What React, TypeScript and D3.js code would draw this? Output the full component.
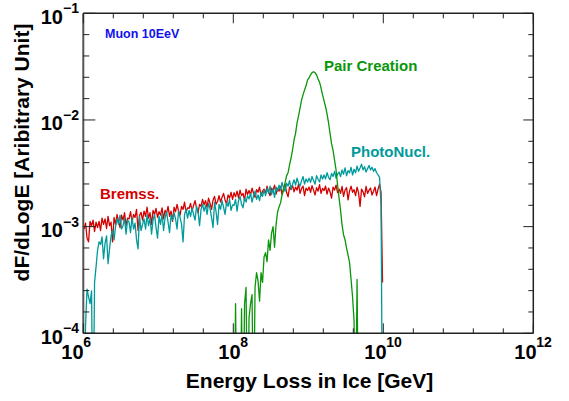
import React from 'react';
import * as d3 from 'd3';

// Histogram binning (log10 of energy loss in GeV)
const binStartLog = 6.0;
const binWidthLog = 0.02;
const UNIT = 1e-3; // values below are in units of 1e-3

const bremss = [
  0.95, 1.08, 0.78, 0.72, 1.12, 1.02, 1.15, 0.90, 1.10, 0.98,
  1.12, 0.92, 1.20, 1.05, 1.18, 0.96, 1.25, 1.02, 1.10, 0.72,
  1.22, 1.05, 1.30, 1.12, 0.98, 1.28, 1.15, 1.35, 1.02, 1.20,
  1.18, 1.38, 1.10, 1.30, 1.22, 1.45, 0.92, 1.28, 1.36, 1.15,
  1.40, 1.25, 1.52, 1.20, 1.35, 1.05, 1.42, 1.30, 1.48, 1.22,
  1.38, 1.28, 1.50, 1.18, 1.42, 1.33, 1.55, 1.25, 1.40, 1.12,
  1.52, 1.38, 1.62, 1.40, 1.28, 1.55, 1.45, 1.70, 1.36, 1.50,
  1.48, 1.65, 1.40, 1.58, 1.75, 1.50, 1.35, 1.62, 1.55, 1.80,
  1.60, 1.75, 1.52, 1.85, 1.65, 1.45, 1.78, 1.92, 1.62, 1.72,
  1.95, 1.70, 1.88, 2.05, 1.78, 1.62, 1.98, 1.85, 2.10, 1.80,
  2.08, 1.90, 2.15, 1.85, 2.20, 1.95, 2.05, 1.75, 2.25, 2.00,
  2.18, 1.98, 2.30, 2.05, 1.88, 2.22, 2.10, 2.35, 1.95, 2.15,
  2.25, 2.05, 2.40, 2.12, 1.95, 2.30, 2.18, 2.45, 2.02, 2.28,
  2.15, 2.38, 2.00, 2.30, 2.50, 2.10, 1.90, 2.35, 2.22, 2.45,
  2.12, 2.35, 2.20, 2.50, 2.05, 2.28, 2.40, 1.95, 2.30, 2.18,
  2.35, 2.10, 2.42, 2.20, 1.98, 2.32, 2.15, 2.48, 2.05, 2.28,
  2.18, 2.40, 2.02, 2.30, 2.12, 1.85, 2.35, 2.20, 2.45, 2.08,
  2.25, 2.05, 2.38, 1.92, 2.20, 2.32, 1.78, 2.15, 2.40, 2.10,
  2.22, 1.95, 2.35, 2.08, 1.55, 2.25, 2.12, 1.90, 2.38, 2.05,
  2.20, 2.30, 1.98, 2.15, 2.35, 1.95, 2.25, 2.50, 2.10, 0.30,
];

const photoNucl = [
  0.00, 0.12, 0.26, 0.22, 0.19, 0.25, 0.00, 0.30, 0.42, 0.60,
  0.72, 0.68, 0.80, 0.50, 0.70, 0.82, 0.45, 0.62, 0.82, 0.93,
  0.75, 1.00, 1.18, 1.05, 1.28, 0.95, 1.02, 1.20, 0.85, 1.15,
  1.10, 0.88, 1.22, 0.95, 1.08, 0.75, 0.62, 1.25, 0.92, 1.05,
  1.18, 0.95, 1.28, 1.02, 1.20, 0.85, 1.15, 1.30, 0.98, 0.78,
  1.25, 1.05, 1.32, 0.92, 1.20, 1.38, 1.10, 0.88, 1.28, 1.15,
  1.35, 1.18, 0.95, 1.40, 1.22, 1.05, 0.72, 1.30, 1.45, 1.20,
  1.42, 1.25, 1.50, 1.30, 1.15, 1.55, 1.38, 1.02, 1.45, 1.62,
  1.40, 1.58, 1.30, 1.65, 1.48, 1.22, 0.98, 1.70, 1.38, 1.05,
  1.62, 1.45, 1.75, 1.52, 1.30, 1.68, 1.55, 1.80, 1.42, 1.60,
  1.58, 1.80, 1.40, 1.75, 1.92, 1.62, 1.50, 1.85, 1.70, 1.95,
  1.82, 2.05, 1.70, 1.95, 2.15, 1.80, 1.98, 1.75, 2.10, 1.92,
  2.20, 1.95, 2.30, 2.05, 2.40, 2.00, 2.25, 1.88, 2.35, 2.15,
  2.45, 2.20, 2.60, 2.30, 2.15, 2.55, 2.40, 2.70, 2.25, 2.50,
  2.75, 2.45, 2.85, 2.55, 2.40, 2.70, 2.95, 2.50, 2.80, 2.62,
  2.85, 2.60, 2.95, 2.70, 2.50, 3.00, 2.78, 2.62, 3.05, 2.80,
  3.05, 2.80, 3.20, 2.90, 2.75, 3.15, 2.95, 3.30, 2.85, 3.10,
  3.25, 2.95, 3.40, 3.10, 3.55, 3.00, 3.35, 3.20, 3.60, 3.05,
  3.45, 3.20, 3.70, 3.30, 3.55, 3.85, 3.40, 3.65, 3.25, 3.50,
  3.75, 3.40, 3.60, 3.30, 3.50, 3.20, 3.05, 2.90, 1.60, 0.00,
];

const pairStartBin = 98;
const pairCreation = [
  0.00, 0.00, 0.00, 0.19, 0.00, 0.00, 0.00, 0.17, 0.00, 0.19,
  0.27, 0.00, 0.14, 0.19, 0.23, 0.00, 0.27, 0.37, 0.31, 0.20,
  0.37, 0.30, 0.52, 0.57, 0.47, 0.75, 0.60, 0.87, 1.00, 0.64,
  1.04, 1.37, 1.53, 1.67, 1.98, 2.21, 2.57, 2.99, 3.20, 3.79,
  4.40, 5.23, 6.49, 7.50, 9.40, 10.9, 12.9, 15.4, 17.2, 19.1,
  20.9, 23.7, 24.8, 26.5, 27.8, 28.3, 27.8, 26.5, 24.2, 22.6,
  19.9, 17.2, 15.1, 13.3, 11.4, 9.40, 7.50, 6.00, 5.20, 4.20,
  3.40, 2.46, 1.86, 1.43, 1.04, 0.84, 0.75, 0.63, 0.54, 0.46,
  0.32, 0.22, 0.13, 0.00, 0.32, 0.00, 0.00,
];

const xMajorExps = [6, 8, 10, 12];
const yMajorExps = [-1, -2, -3, -4];

const seriesLabels = ['Bremss.', 'PhotoNucl.', 'Pair Creation'];
const seriesColors = ['#d40000', '#009a9a', '#0a960a'];

const W = 569;
const H = 401;
const L = 83.3, R = 533.3, T = 13.3, B = 333.3;
const FONT = 'Liberation Sans, Arial, Helvetica, sans-serif';

export default function App() {
  const x = d3.scaleLog().domain([1e6, 1e12]).range([L, R]);
  const y = d3.scaleLog().domain([1e-4, 1e-1]).range([B, T]);

  const binCenter = (i: number) => Math.pow(10, binStartLog + binWidthLog * (i + 0.5));
  const floorVal = 1e-5;

  const line = d3
    .line<[number, number]>()
    .x((d) => x(d[0]))
    .y((d) => y(Math.max(d[1] * UNIT, floorVal)));

  const toPts = (arr: number[], start: number): [number, number][] =>
    arr.map((v, i) => [binCenter(start + i), v]);

  const paths = [
    { d: line(toPts(bremss, 0)), c: seriesColors[0] },
    { d: line(toPts(photoNucl, 0)), c: seriesColors[1] },
    { d: line(toPts(pairCreation, pairStartBin)), c: seriesColors[2] },
  ];

  // ticks: x every 0.4 decade (major every 2 decades), y every 0.2 decade
  const xTicks = d3.range(0, 16).map((k) => ({ v: Math.pow(10, 6 + 0.4 * k), major: k % 5 === 0 }));
  const yTicks = d3.range(0, 16).map((k) => ({ v: Math.pow(10, -4 + 0.2 * k), major: k % 5 === 0 }));

  return (
    <svg
      width={W}
      height={H}
      style={{ position: 'absolute', left: 0, top: 0, background: '#fff' }}
      fontFamily={FONT}
    >
      <rect x={0} y={0} width={W} height={H} fill="#fff" />
      <defs>
        <clipPath id="plotclip">
          <rect x={L} y={T} width={R - L} height={B - T} />
        </clipPath>
      </defs>
      <g clipPath="url(#plotclip)" fill="none" strokeWidth={1.3} strokeLinejoin="round">
        {paths.map((p, i) => (
          <path key={i} d={p.d || ''} stroke={p.c} />
        ))}
      </g>

      {/* frame */}
      <g stroke="#222" strokeWidth={1.5} fill="none">
        <line x1={L} y1={T} x2={R} y2={T} />
        <line x1={L} y1={B} x2={R} y2={B} />
        <line x1={L} y1={T} x2={L} y2={B} stroke="#555" strokeWidth={2} />
        <line x1={R} y1={T} x2={R} y2={B} />
      </g>
      {/* ticks */}
      <g stroke="#222" strokeWidth={1}>
        {xTicks.map((t, i) => {
          const xx = x(t.v);
          const len = t.major ? 10 : 5;
          return (
            <g key={'xt' + i}>
              <line x1={xx} x2={xx} y1={B} y2={B - len} />
              <line x1={xx} x2={xx} y1={T} y2={T + len} />
            </g>
          );
        })}
        {yTicks.map((t, i) => {
          const yy = y(t.v);
          return (
            <g key={'yt' + i}>
              <line x1={L} x2={L + (t.major ? 12 : 6)} y1={yy} y2={yy} />
              <line x1={R} x2={R - (t.major ? 10 : 5)} y1={yy} y2={yy} />
            </g>
          );
        })}
      </g>

      {/* x tick labels */}
      <g fontWeight="bold" fill="#000">
        {xMajorExps.map((e, i) => {
          const xx = x(Math.pow(10, e));
          const supW = String(e).length * 8;
          const total = 22 + supW;
          const shift = i === 0 ? -7 : 0;
          const x0 = xx - total / 2 + shift;
          return (
            <g key={'xl' + e}>
              <text x={x0} y={359} fontSize={20}>10</text>
              <text x={x0 + 22} y={347} fontSize={14}>{e}</text>
            </g>
          );
        })}
      </g>
      {/* y tick labels */}
      <g fontWeight="bold" fill="#000">
        {yMajorExps.map((e) => {
          const yy = y(Math.pow(10, e));
          return (
            <g key={'yl' + e}>
              <text x={63} y={yy + 10.5} fontSize={20} textAnchor="end">10</text>
              <text x={63} y={yy} fontSize={14}>{'\u2212' + Math.abs(e)}</text>
            </g>
          );
        })}
      </g>

      {/* axis titles */}
      <text x={309.5} y={388} fontSize={21} fontWeight="bold" textAnchor="middle" fill="#000">
        Energy Loss in Ice [GeV]
      </text>
      <text
        transform="translate(29,152.5) rotate(-90)"
        fontSize={21}
        fontWeight="bold"
        textAnchor="middle"
        fill="#000"
      >
        dF/dLogE [Aribitrary Unit]
      </text>

      {/* annotations */}
      <text x={105} y={38} fontSize={12.5} fontWeight="bold" fill="#1010f0">Muon 10EeV</text>
      <text x={100} y={199} fontSize={15} fontWeight="bold" fill={seriesColors[0]}>{seriesLabels[0]}</text>
      <text x={351} y={157} fontSize={15} fontWeight="bold" fill={seriesColors[1]}>{seriesLabels[1]}</text>
      <text x={324} y={71} fontSize={15} fontWeight="bold" fill={seriesColors[2]}>{seriesLabels[2]}</text>
    </svg>
  );
}
